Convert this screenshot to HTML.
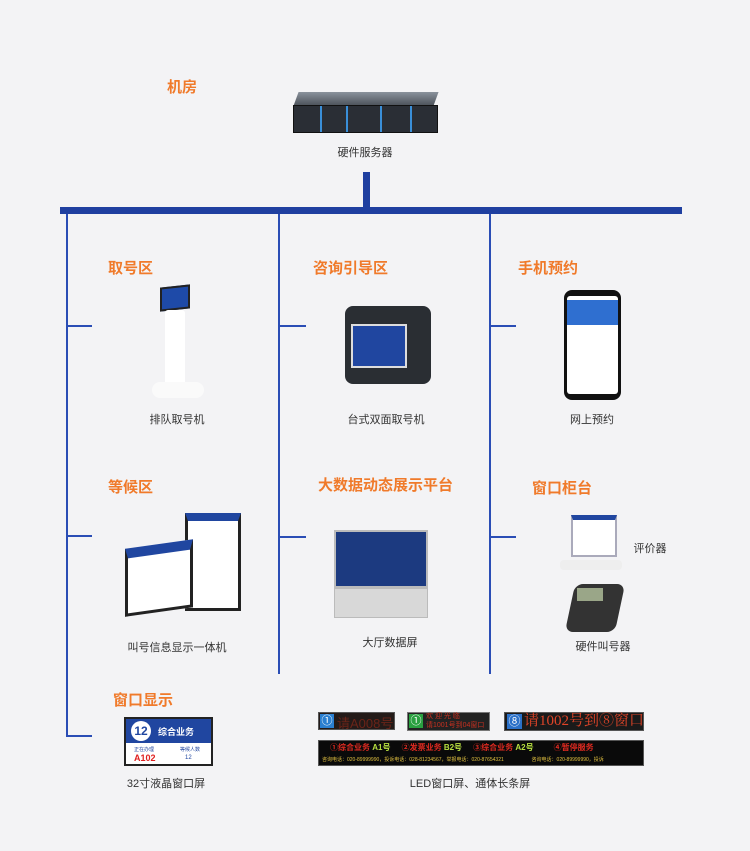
<!DOCTYPE html>
<html><head><meta charset="utf-8"><style>
*{margin:0;padding:0;box-sizing:border-box}
body{width:750px;height:851px;background:#f3f3f5;position:relative;overflow:hidden;font-family:"Liberation Sans","Noto Sans CJK SC",sans-serif}
.a{position:absolute}
.t{position:absolute;color:#f07a2a;font-weight:bold;font-size:15px;white-space:nowrap}
.l{position:absolute;font-size:11px;color:#333;white-space:nowrap;transform:translateX(-50%)}
.b{position:absolute;background:#2a4db5}
</style></head><body>
<div class="t" style="left:167px;top:76px">机房</div>
<!-- server -->
<div class="a" style="left:296px;top:92px;width:140px;height:14px;background:linear-gradient(#8a929c,#4a5058);transform:skewX(-20deg)"></div>
<div class="a" style="left:293px;top:105px;width:145px;height:28px;background:#2a2e35;border:1px solid #111"></div>
<div class="a" style="left:320px;top:106px;width:2px;height:26px;background:#3a8fd8"></div>
<div class="a" style="left:346px;top:106px;width:2px;height:26px;background:#3a8fd8"></div>
<div class="a" style="left:380px;top:106px;width:2px;height:26px;background:#3a8fd8"></div>
<div class="a" style="left:410px;top:106px;width:2px;height:26px;background:#3a8fd8"></div>
<div class="l" style="left:365px;top:144px">硬件服务器</div>
<!-- lines -->
<div class="a" style="left:363px;top:172px;width:7px;height:40px;background:#1f3fa0"></div>
<div class="a" style="left:60px;top:207px;width:622px;height:7px;background:#1f3fa0"></div>
<div class="b" style="left:66px;top:214px;width:2px;height:523px"></div>
<div class="b" style="left:278px;top:214px;width:2px;height:460px"></div>
<div class="b" style="left:489px;top:214px;width:2px;height:460px"></div>
<div class="b" style="left:66px;top:325px;width:26px;height:2px"></div>
<div class="b" style="left:278px;top:325px;width:28px;height:2px"></div>
<div class="b" style="left:489px;top:325px;width:27px;height:2px"></div>
<div class="b" style="left:66px;top:535px;width:26px;height:2px"></div>
<div class="b" style="left:278px;top:536px;width:28px;height:2px"></div>
<div class="b" style="left:489px;top:536px;width:27px;height:2px"></div>
<div class="b" style="left:66px;top:735px;width:26px;height:2px"></div>
<!-- row1 -->
<div class="t" style="left:108px;top:257px">取号区</div>
<div class="t" style="left:313px;top:257px">咨询引导区</div>
<div class="t" style="left:518px;top:257px">手机预约</div>
<div class="a" style="left:160px;top:286px;width:30px;height:24px;background:#1e4aa8;border:2px solid #222;transform:skewY(-6deg)"></div>
<div class="a" style="left:165px;top:310px;width:20px;height:80px;background:#fff;border-radius:3px"></div>
<div class="a" style="left:152px;top:382px;width:52px;height:16px;background:#fafafa;border-radius:8px"></div>
<div class="a" style="left:345px;top:306px;width:86px;height:78px;background:#2a2e33;border-radius:8px"></div>
<div class="a" style="left:351px;top:324px;width:56px;height:44px;background:#2046a0;border:2px solid #ddd"></div>
<div class="a" style="left:564px;top:290px;width:57px;height:110px;background:#111;border-radius:8px"></div>
<div class="a" style="left:567px;top:296px;width:51px;height:98px;background:#fff;border-radius:3px"></div>
<div class="a" style="left:567px;top:300px;width:51px;height:25px;background:#2f6fd0"></div>
<div class="l" style="left:177px;top:411px">排队取号机</div>
<div class="l" style="left:386px;top:411px">台式双面取号机</div>
<div class="l" style="left:592px;top:411px">网上预约</div>
<!-- row2 -->
<div class="t" style="left:108px;top:476px">等候区</div>
<div class="t" style="left:318px;top:474px">大数据动态展示平台</div>
<div class="t" style="left:532px;top:477px">窗口柜台</div>
<div class="a" style="left:185px;top:513px;width:56px;height:98px;background:#fff;border:3px solid #222;border-top:8px solid #2046a0"></div>
<div class="a" style="left:125px;top:544px;width:68px;height:68px;background:#fff;border:3px solid #222;border-top:10px solid #2046a0;transform:skewY(-8deg)"></div>
<div class="l" style="left:177px;top:639px">叫号信息显示一体机</div>
<div class="a" style="left:334px;top:530px;width:94px;height:58px;background:#1c3a80;border:2px solid #bbb"></div>
<div class="a" style="left:334px;top:588px;width:94px;height:30px;background:#d8d8d8;border:1px solid #bbb"></div>
<div class="l" style="left:390px;top:634px">大厅数据屏</div>
<div class="a" style="left:571px;top:515px;width:46px;height:42px;background:#fff;border:2px solid #aab;border-top:5px solid #2046a0"></div>
<div class="a" style="left:560px;top:560px;width:62px;height:10px;background:#eee;border-radius:4px"></div>
<div class="l" style="left:650px;top:540px">评价器</div>
<div class="a" style="left:570px;top:584px;width:50px;height:48px;background:#333;border-radius:8px;transform:skewX(-12deg)"></div>
<div class="a" style="left:577px;top:588px;width:26px;height:13px;background:#9aa688"></div>
<div class="l" style="left:603px;top:638px">硬件叫号器</div>
<!-- row3 -->
<div class="t" style="left:113px;top:689px">窗口显示</div>
<div class="a" style="left:124px;top:717px;width:89px;height:49px;background:#fff;border:2px solid #222"></div>
<div class="a" style="left:126px;top:719px;width:85px;height:24px;background:#2046a0"></div>
<div class="a" style="left:131px;top:721px;width:20px;height:20px;background:#fff;border-radius:50%;color:#2046a0;font-size:12px;font-weight:bold;text-align:center;line-height:20px">12</div>
<div class="a" style="left:158px;top:725px;color:#fff;font-size:9px;font-weight:bold">综合业务</div>
<div class="a" style="left:134px;top:746px;color:#2046a0;font-size:5px">正在办理</div>
<div class="a" style="left:134px;top:753px;color:#e02020;font-size:9px;font-weight:bold">A102</div>
<div class="a" style="left:180px;top:746px;color:#2046a0;font-size:5px">等候人数</div>
<div class="a" style="left:185px;top:755px;color:#2046a0;font-size:6px">12</div>
<div class="l" style="left:166px;top:775px">32寸液晶窗口屏</div>
<div class="a" style="left:318px;top:712px;width:77px;height:18px;background:#231a18;border:1px solid #555"></div>
<div class="a" style="left:320px;top:714px;width:14px;height:14px;background:#2a7fd0;color:#fff;font-size:11px;text-align:center;line-height:14px">①</div>
<div class="a" style="left:337px;top:713px;color:#6a2418;font-size:13px">请A008号</div>
<div class="a" style="left:407px;top:712px;width:83px;height:19px;background:#222;border:1px solid #777"></div>
<div class="a" style="left:409px;top:714px;width:14px;height:14px;background:#2aa040;color:#fff;font-size:11px;text-align:center;line-height:14px">①</div>
<div class="a" style="left:426px;top:712px;color:#c83020;font-size:7px;line-height:9px">欢 迎 光 临<br>请1001号到04窗口</div>
<div class="a" style="left:504px;top:712px;width:140px;height:19px;background:#1a1a1a;border:1px solid #555"></div>
<div class="a" style="left:507px;top:714px;width:15px;height:15px;background:#2a70c8;color:#fff;font-size:12px;text-align:center;line-height:15px">⑧</div>
<div class="a" style="left:524px;top:712px;color:#e04428;font-size:15px;font-family:'Liberation Serif','Noto Serif CJK SC',serif;line-height:19px">请1002号到⑧窗口</div>
<div class="a" style="left:318px;top:740px;width:326px;height:26px;background:#0a0a0a;border:1px solid #555"></div>
<div class="a" style="left:330px;top:742px;font-size:8px;font-weight:bold;color:#e02a20;white-space:nowrap">①综合业务 <span style="color:#b8e040">A1号</span> &nbsp;&nbsp;&nbsp; ②发票业务 <span style="color:#b8e040">B2号</span> &nbsp;&nbsp;&nbsp; ③综合业务 <span style="color:#b8e040">A2号</span> &nbsp;&nbsp;&nbsp;&nbsp;&nbsp;&nbsp;&nbsp; ④暂停服务</div>
<div class="a" style="left:322px;top:756px;font-size:5px;color:#e0c040;white-space:nowrap">咨询电话：020-89999990，投诉电话：028-81234567，举报电话：020-87654321 &nbsp;&nbsp;&nbsp;&nbsp;&nbsp;&nbsp;&nbsp;&nbsp;&nbsp;&nbsp;&nbsp;&nbsp;&nbsp;&nbsp;&nbsp;&nbsp;&nbsp;&nbsp; 咨询电话：020-89999990，投诉</div>
<div class="l" style="left:470px;top:775px">LED窗口屏、通体长条屏</div>
</body></html>
